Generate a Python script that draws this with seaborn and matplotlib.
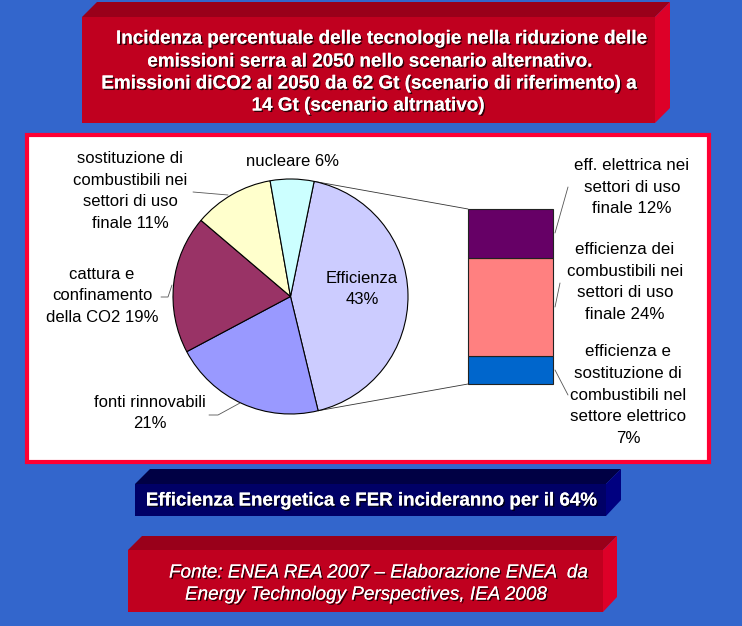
import numpy as np
import matplotlib
matplotlib.use("Agg")
import matplotlib.pyplot as plt
import matplotlib.patheffects as pe
from matplotlib.patches import Rectangle, Polygon
import seaborn as sns
import pandas as pd

# ---------------- data ----------------
pie_labels = ["Efficienza\n43%",
              "fonti rinnovabili\n21%",
              "cattura e\nconfinamento\ndella CO2 19%",
              "sostituzione di\ncombustibili nei\nsettori di uso\nfinale 11%",
              "nucleare 6%"]
pie_values = [43, 21, 19, 11, 6]
pie_colors = ["#CCCCFF", "#9999FF", "#993366", "#FFFFCC", "#CCFFFF"]

bar_labels = ["efficienza e\nsostituzione di\ncombustibili nel\nsettore elettrico\n7%",
              "efficienza dei\ncombustibili nei\nsettori di uso\nfinale 24%",
              "eff. elettrica nei\nsettori di uso\nfinale 12%"]
bar_values = [7, 24, 12]
bar_colors = ["#0066CC", "#FF8080", "#660066"]

title_lines = ["Incidenza percentuale delle tecnologie nella riduzione delle",
               "emissioni serra al 2050 nello scenario alternativo.",
               "Emissioni diCO2 al 2050 da 62 Gt (scenario di riferimento) a",
               "14 Gt (scenario altrnativo)"]
summary_text = "Efficienza Energetica e FER incideranno per il 64%"
source_lines = ["Fonte: ENEA REA 2007 \u2013 Elaborazione ENEA  da",
                "Energy Technology Perspectives, IEA 2008"]

# ---------------- style ----------------
sns.set_theme(style="white")
plt.rcParams['font.family'] = ['Liberation Sans', 'DejaVu Sans']

W, H = 742, 626
BG = "#3366CC"
fig = plt.figure(figsize=(W / 100, H / 100), dpi=100, facecolor=BG)
ax = fig.add_axes([0, 0, 1, 1])
ax.set_facecolor(BG)


def Y(py):
    return H - py


def box3d(x0, x1, yt, yb, d, dside_bottom, front, top, side):
    ax.add_patch(Polygon([(x0, Y(yt)), (x0 + d, Y(yt - d)), (x1 + d, Y(yt - d)), (x1, Y(yt))],
                         closed=True, facecolor=top, edgecolor='none', zorder=1))
    ax.add_patch(Polygon([(x1, Y(yt)), (x1 + d, Y(yt - d)), (x1 + d, Y(dside_bottom)), (x1, Y(yb))],
                         closed=True, facecolor=side, edgecolor='none', zorder=1))
    ax.add_patch(Rectangle((x0, Y(yb)), x1 - x0, yb - yt, facecolor=front,
                           edgecolor='none', zorder=1))


shadow = [pe.withSimplePatchShadow(offset=(1.1, -1.1), shadow_rgbFace='black', alpha=0.75),
          pe.Normal()]

# title box
box3d(82, 655, 17, 123, 15, 108, "#C0001F", "#99001A", "#DD0028")
title_x = [382, 370, 369, 368]
title_y = [39, 62, 84, 106]
for t, x, y in zip(title_lines, title_x, title_y):
    ax.text(x, Y(y), t, ha='center', va='center', color='white', fontsize=13.6,
            fontweight='bold', path_effects=shadow, zorder=5)

# white panel with red border
ax.add_patch(Rectangle((27, Y(462)), 682, 327, facecolor='white',
                       edgecolor='#FF0033', linewidth=3, zorder=1))

# pie
cx, cy, r = 290.5, Y(296.5), 117.5
wedges, _ = ax.pie(pie_values, colors=pie_colors, startangle=78.4, counterclock=False,
                   center=(cx, cy), radius=r,
                   wedgeprops=dict(edgecolor='black', linewidth=0.8))
for w in wedges:
    w.set_zorder(3)

lab_fs = 12
lab_ls = 1.55
lab_pos = [(362, 289), (150, 413), (102, 296), (130, 191), (293, 162)]
for t, (x, y) in zip(pie_labels, lab_pos):
    ax.text(x, Y(y), t, ha='center', va='center', color='black', fontsize=lab_fs,
            linespacing=lab_ls, zorder=5)

# leader lines (pie)
lc = '#555555'
ax.plot([193, 228], [Y(192), Y(195)], color=lc, lw=0.6, zorder=4)
ax.plot([161, 168, 172], [Y(297), Y(297), Y(285)], color=lc, lw=0.6, zorder=4)
ax.plot([209, 218, 240], [Y(415), Y(415), Y(403)], color=lc, lw=0.6, zorder=4)

# bar geometry (pixels)
bx0, bx1, by_top, by_bot = 468, 553, 209, 384
w0 = wedges[0]
for ang, (px, py) in zip([w0.theta2, w0.theta1], [(bx0, by_top), (bx0, by_bot)]):
    a = np.deg2rad(ang)
    ax.plot([cx + r * np.cos(a), px], [cy + r * np.sin(a), Y(py)],
            color='#333333', lw=0.6, zorder=2)

# leader lines (bar)
ax.plot([555, 568], [Y(233), Y(187)], color=lc, lw=0.6, zorder=4)
ax.plot([555, 560], [Y(307), Y(283)], color=lc, lw=0.6, zorder=4)
ax.plot([555, 568], [Y(370), Y(395)], color=lc, lw=0.6, zorder=4)

bar_lab_pos = [(628, 395), (625, 282), (632, 187)]
for t, (x, y) in zip(bar_labels, bar_lab_pos):
    ax.text(x, Y(y), t, ha='center', va='center', color='black', fontsize=12.2,
            linespacing=1.58, zorder=5)

ax.set_xlim(0, W)
ax.set_ylim(0, H)
ax.set_aspect('auto')
ax.axis('off')

# stacked bar with seaborn
bax = fig.add_axes([bx0 / W, (H - by_bot) / H, (bx1 - bx0) / W, (by_bot - by_top) / H])
bottoms = np.concatenate([[0], np.cumsum(bar_values)[:-1]])
for v, b, c in zip(bar_values, bottoms, bar_colors):
    sns.barplot(x=[0], y=[v], bottom=b, color=c, saturation=1, width=1,
                edgecolor='#222222', linewidth=0.8, ax=bax)
bax.set_xlim(-0.5, 0.5)
bax.set_ylim(0, sum(bar_values))
bax.axis('off')
for p in bax.patches:
    p.set_clip_on(False)

# summary box
box3d(135, 606, 484, 516, 15, 500, "#000066", "#000044", "#000080")
ax.text(371, Y(501), summary_text, ha='center', va='center', color='white',
        fontsize=13.5, fontweight='bold', path_effects=shadow, zorder=5)

# source box
box3d(128, 603, 550, 612, 14, 597, "#C0001F", "#99001A", "#DD0028")
ax.text(169, Y(573), source_lines[0], ha='left', va='center', color='white',
        fontsize=13.6, style='italic', path_effects=shadow, zorder=5)
ax.text(185, Y(595), source_lines[1], ha='left', va='center', color='white',
        fontsize=13.6, style='italic', path_effects=shadow, zorder=5)

fig.savefig("out.png", dpi=100, facecolor=BG)
